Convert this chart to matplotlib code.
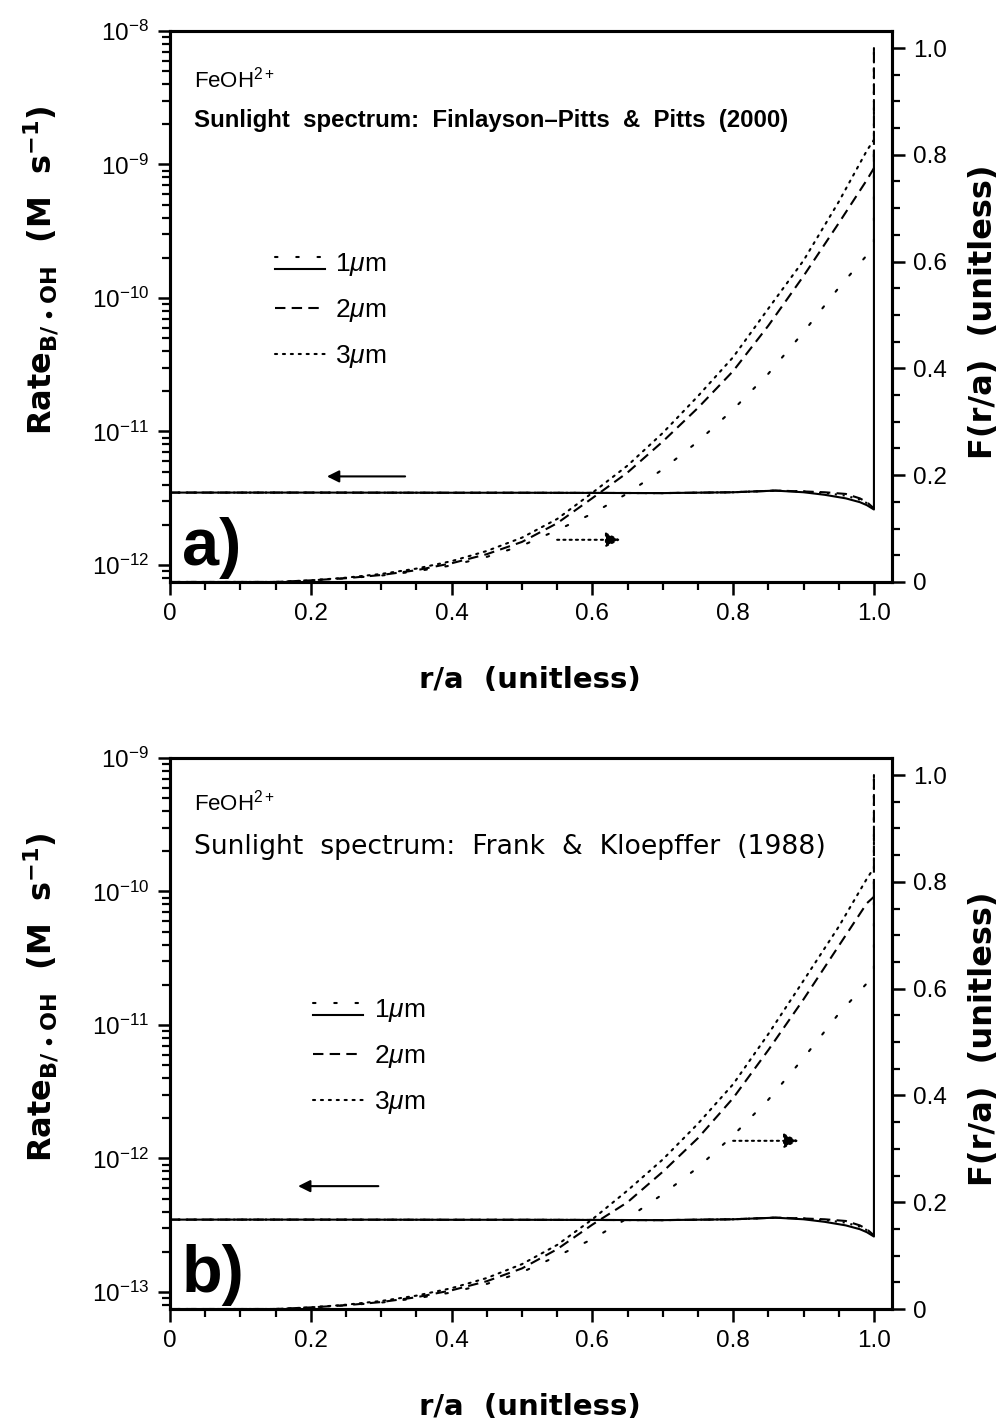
import numpy as np
import matplotlib
matplotlib.use('Agg')
import matplotlib.pyplot as plt
from matplotlib.ticker import MultipleLocator, FuncFormatter, LogLocator, NullFormatter
from matplotlib.legend_handler import HandlerBase
from matplotlib.lines import Line2D

plt.rcParams['font.family'] = ['Liberation Sans', 'DejaVu Sans']
plt.rcParams['mathtext.fontset'] = 'custom'
plt.rcParams['mathtext.rm'] = 'Liberation Sans'
plt.rcParams['mathtext.it'] = 'Liberation Sans:italic'
plt.rcParams['mathtext.bf'] = 'Liberation Sans:bold'

# ---- data ----
r_F = [0, 0.15, 0.2, 0.25, 0.3, 0.35, 0.4, 0.45, 0.5, 0.55, 0.6, 0.65, 0.7,
       0.75, 0.8, 0.85, 0.9, 0.95, 0.99, 1.0, 1.0]
# panel a: F(r/a)
Fa_1um = [0, 0, 0.003, 0.007, 0.012, 0.020, 0.031, 0.047, 0.068, 0.097, 0.128, 0.166,
          0.211, 0.263, 0.323, 0.39, 0.468, 0.551, 0.612, 0.63, 1.0]
Fa_2um = [0, 0, 0.003, 0.007, 0.013, 0.022, 0.035, 0.052, 0.075, 0.110, 0.157, 0.205,
          0.263, 0.326, 0.395, 0.48, 0.573, 0.672, 0.753, 0.775, 1.0]
Fa_3um = [0, 0, 0.003, 0.008, 0.015, 0.025, 0.039, 0.058, 0.083, 0.118, 0.167, 0.218,
          0.279, 0.348, 0.421, 0.512, 0.602, 0.712, 0.808, 0.828, 1.0]
# panel b: F(r/a)
Fb_1um = [0, 0, 0.003, 0.007, 0.012, 0.020, 0.031, 0.047, 0.069, 0.099, 0.131, 0.170,
          0.215, 0.265, 0.325, 0.392, 0.47, 0.553, 0.61, 0.628, 1.0]
Fb_2um = [0, 0, 0.003, 0.007, 0.013, 0.022, 0.035, 0.052, 0.076, 0.112, 0.158, 0.200,
          0.257, 0.32, 0.395, 0.485, 0.58, 0.68, 0.76, 0.772, 1.0]
Fb_3um = [0, 0, 0.003, 0.008, 0.015, 0.025, 0.039, 0.058, 0.084, 0.12, 0.168, 0.222,
          0.28, 0.347, 0.421, 0.515, 0.615, 0.716, 0.806, 0.826, 1.0]

r_rate = [0, 0.2, 0.4, 0.5, 0.6, 0.7, 0.8, 0.86, 0.9, 0.93, 0.96, 0.98, 0.99, 1.0]
# panel a: rate (M s-1)
Ra_1um = [3.48e-12, 3.48e-12, 3.47e-12, 3.47e-12, 3.46e-12, 3.45e-12, 3.5e-12, 3.6e-12,
          3.5e-12, 3.35e-12, 3.15e-12, 2.95e-12, 2.8e-12, 2.6e-12]
Ra_2um = [3.48e-12, 3.48e-12, 3.47e-12, 3.47e-12, 3.46e-12, 3.45e-12, 3.5e-12, 3.6e-12,
          3.55e-12, 3.5e-12, 3.4e-12, 3.15e-12, 2.95e-12, 2.65e-12]
Ra_3um = [3.48e-12, 3.48e-12, 3.47e-12, 3.47e-12, 3.46e-12, 3.45e-12, 3.5e-12, 3.6e-12,
          3.55e-12, 3.45e-12, 3.3e-12, 3.08e-12, 2.9e-12, 2.62e-12]
Ra_surface_1um = 1.27e-9
# panel b: rate (M s-1)
Rb_1um = [3.48e-13, 3.48e-13, 3.47e-13, 3.47e-13, 3.46e-13, 3.45e-13, 3.5e-13, 3.6e-13,
          3.5e-13, 3.35e-13, 3.15e-13, 2.95e-13, 2.8e-13, 2.6e-13]
Rb_2um = [3.48e-13, 3.48e-13, 3.47e-13, 3.47e-13, 3.46e-13, 3.45e-13, 3.5e-13, 3.6e-13,
          3.55e-13, 3.5e-13, 3.4e-13, 3.15e-13, 2.95e-13, 2.65e-13]
Rb_3um = [3.48e-13, 3.48e-13, 3.47e-13, 3.47e-13, 3.46e-13, 3.45e-13, 3.5e-13, 3.6e-13,
          3.55e-13, 3.45e-13, 3.3e-13, 3.08e-13, 2.9e-13, 2.62e-13]
Rb_surface_1um = 1.15e-10

sizes = ['1$\\mu$m', '2$\\mu$m', '3$\\mu$m']

LW = 1.5
SOLID = '-'
DASH = (0, (5, 3))
DOT = (0, (1, 2.8))
SPARSE = (0, (1.2, 9.0))
LABEL_FONT = dict(family='DejaVu Sans', fontweight='bold', fontsize=21,
                  math_fontfamily='dejavusans')
YLABEL_FONT = dict(LABEL_FONT, fontsize=23)


class PairHandler(HandlerBase):
    # solid line with sparse dots just above it
    def create_artists(self, legend, orig_handle, xdescent, ydescent,
                       width, height, fontsize, trans):
        out = []
        for h, frac in zip(orig_handle, (0.1, 0.75)):
            ln = Line2D([-xdescent, -xdescent + width], [frac * height - ydescent] * 2)
            ln.update_from(h)
            ln.set_transform(trans)
            out.append(ln)
        return out


def fmt(v, pos):
    return '0' if abs(v) < 1e-9 else '%.1f' % v


def panel(ax, rates, surf, Fs, ylim, letter, note, note_style, text_y, leg_xy,
          larrow, rarrow):
    ax2 = ax.twinx()
    r1, r2, r3 = rates
    ax.plot(r_rate + [1.0], r1 + [surf], color='k', lw=LW, ls=SOLID)
    ax.plot(r_rate, r2, color='k', lw=LW, ls=DASH)
    ax.plot(r_rate, r3, color='k', lw=LW, ls=DOT)
    f1, f2, f3 = Fs
    ax2.plot(r_F, f1, color='k', lw=LW, ls=SPARSE, dash_capstyle='round')
    ax2.plot(r_F, f2, color='k', lw=LW, ls=DASH)
    ax2.plot(r_F, f3, color='k', lw=LW, ls=DOT, dash_capstyle='round')

    ax.set_yscale('log')
    ax.set_ylim(*ylim)
    ax.set_xlim(0, 1.0256)
    ax2.set_ylim(0, 1.032)

    ax.xaxis.set_major_locator(MultipleLocator(0.2))
    ax.xaxis.set_minor_locator(MultipleLocator(0.05))
    ax.xaxis.set_major_formatter(FuncFormatter(fmt))
    ax2.yaxis.set_major_locator(MultipleLocator(0.2))
    ax2.yaxis.set_minor_locator(MultipleLocator(0.05))
    ax2.yaxis.set_major_formatter(FuncFormatter(fmt))
    ax.yaxis.set_major_locator(LogLocator(base=10, numticks=10))
    ax.yaxis.set_minor_locator(LogLocator(base=10, subs=np.arange(2, 10), numticks=10))
    ax.yaxis.set_minor_formatter(NullFormatter())

    for a in (ax, ax2):
        for s in a.spines.values():
            s.set_linewidth(2.2)
        a.tick_params(which='major', direction='out', length=9, width=1.8, labelsize=17.5, pad=6)
        a.tick_params(which='minor', direction='out', length=5.5, width=1.6)
    ax.tick_params(axis='x', which='both', top=False)

    ax.set_xlabel('r/a  (unitless)', **LABEL_FONT)
    ax.xaxis.set_label_coords(0.4986, -0.152)
    ax.set_ylabel('Rate$_{\\mathbf{B/}\\bullet\\mathbf{OH}}$  (M  s$^{\\mathbf{-1}}$)',
                  **YLABEL_FONT)
    ax.yaxis.set_label_coords(-0.152, 0.566)
    ax2.set_ylabel('F(r/a)  (unitless)', **YLABEL_FONT)
    ax2.yaxis.set_label_coords(1.105, 0.49)

    ax.text(0.033, text_y[0], 'FeOH$^{2+}$', transform=ax.transAxes, fontsize=16)
    ax.text(0.033, text_y[1], note, transform=ax.transAxes, **note_style)
    ax.text(0.016, 0.03, letter, transform=ax.transAxes, fontsize=48,
            fontweight='bold')

    # legend
    h1 = (Line2D([], [], color='k', lw=LW, ls=SOLID),
          Line2D([], [], color='k', lw=LW, ls=SPARSE, dash_capstyle='round'))
    h2 = Line2D([], [], color='k', lw=LW, ls=DASH)
    h3 = Line2D([], [], color='k', lw=LW, ls=DOT, dash_capstyle='round')
    ax.legend([h1, h2, h3], sizes, handler_map={tuple: PairHandler()},
              loc='upper left', bbox_to_anchor=leg_xy, frameon=False,
              fontsize=19, handlelength=1.9, handletextpad=0.4,
              labelspacing=0.72, borderpad=0, borderaxespad=0)

    (x0, x1, yl) = larrow
    ax.annotate('', xy=(x1, yl), xytext=(x0, yl),
                arrowprops=dict(arrowstyle='-|>', color='k', lw=1.5,
                                mutation_scale=18, shrinkA=0, shrinkB=0))
    (x0, x1, yr) = rarrow
    ax2.annotate('', xy=(x1, yr), xytext=(x0, yr),
                 arrowprops=dict(arrowstyle='-|>', color='k', lw=1.5, ls=(0, (1, 2)),
                                 mutation_scale=22, shrinkA=0, shrinkB=0))


fig = plt.figure(figsize=(10.04, 14.25), dpi=100)
axa = fig.add_axes([0.1693, 0.5916, 0.7191, 0.3867])
axb = fig.add_axes([0.1693, 0.0814, 0.7191, 0.3867])

panel(axa, (Ra_1um, Ra_2um, Ra_3um), Ra_surface_1um, (Fa_1um, Fa_2um, Fa_3um),
      (10 ** -12.128, 1e-8), 'a)',
      'Sunlight  spectrum:  Finlayson\u2013Pitts  &  Pitts  (2000)',
      dict(fontsize=17.3, fontweight='bold'), (0.898, 0.826),
      (0.145, 0.600), (0.334, 0.223, 4.6e-12), (0.55, 0.64, 0.079))
panel(axb, (Rb_1um, Rb_2um, Rb_3um), Rb_surface_1um, (Fb_1um, Fb_2um, Fb_3um),
      (10 ** -13.128, 1e-9), 'b)',
      'Sunlight  spectrum:  Frank  &  Kloepffer  (1988)',
      dict(fontsize=19.2, family='DejaVu Sans'), (0.905, 0.826),
      (0.198, 0.566), (0.296, 0.182, 6.2e-13), (0.80, 0.893, 0.315))

fig.savefig('out.png', dpi=100)
